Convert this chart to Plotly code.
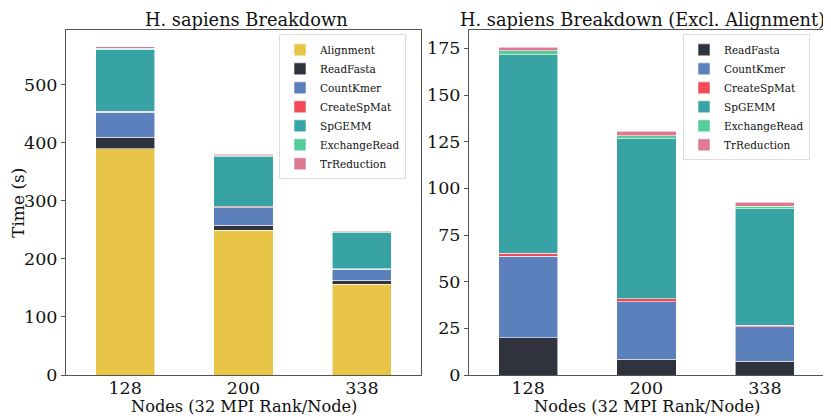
import plotly.graph_objects as go

nodes = ["128", "200", "338"]
alignment = [389, 249, 156]
read_fasta = [20.0, 8.4, 7.3]
count_kmer = [43.6, 30.8, 18.5]
create_spmat = [1.7, 1.7, 0.8]
spgemm = [106.2, 85.7, 62.4]
exchange_read = [2.1, 1.7, 1.4]
tr_reduction = [2.1, 2.3, 2.1]

series = [
    ("Alignment", alignment, "#E8C547"),
    ("ReadFasta", read_fasta, "#30323D"),
    ("CountKmer", count_kmer, "#5C80BC"),
    ("CreateSpMat", create_spmat, "#EF4B55"),
    ("SpGEMM", spgemm, "#38A3A5"),
    ("ExchangeRead", exchange_read, "#57CC99"),
    ("TrReduction", tr_reduction, "#DF7893"),
]

FONT = "DejaVu Serif"
fig = go.Figure()
for name, vals, col in series:
    fig.add_trace(go.Bar(x=nodes, y=vals, name=name, marker_color=col,
                         marker_line=dict(color="rgba(255,255,255,0.7)", width=0.8),
                         width=0.5, xaxis="x", yaxis="y", legend="legend"))
for name, vals, col in series[1:]:
    fig.add_trace(go.Bar(x=nodes, y=vals, name=name, marker_color=col,
                         marker_line=dict(color="rgba(255,255,255,0.7)", width=0.8),
                         width=0.5, xaxis="x2", yaxis="y2", legend="legend2"))

base = dict(showline=True, mirror=True, linecolor="#555555", linewidth=1,
            showgrid=False, zeroline=False,
            tickfont=dict(family=FONT, size=17.5, color="#111"))
yax = dict(ticks="outside", ticklen=4, tickcolor="#555555", **base)
xax = dict(ticks="", ticklabelstandoff=-3, **base)
ydom = [43/419, 396/419]
legcommon = dict(bordercolor="#dddddd", borderwidth=1, bgcolor="rgba(255,255,255,0.8)",
                 font=dict(family=FONT, size=10.5), traceorder="normal", tracegroupgap=0,
                 itemwidth=30, y=(419-27)/419, yanchor="top", xanchor="right")
fig.update_layout(
    width=831, height=419, barmode="stack",
    margin=dict(l=0, r=0, t=0, b=0),
    plot_bgcolor="white", paper_bgcolor="white",
    font=dict(family=FONT, color="#111"),
    xaxis=dict(domain=[58/831, 413/831], range=[-0.5, 2.5], anchor="y", **xax),
    yaxis=dict(domain=ydom, range=[0, 593], anchor="x", tickvals=[0,100,200,300,400,500],
               title=dict(text="Time (s)", font=dict(family=FONT, size=17), standoff=2), **yax),
    xaxis2=dict(domain=[461/831, 816/831], range=[-0.5, 2.5], anchor="y2", **xax),
    yaxis2=dict(domain=ydom, range=[0, 184.6], anchor="x2", tickvals=[0,25,50,75,100,125,150,175], **yax),
    legend=dict(x=398/831, **legcommon),
    legend2=dict(x=802/831, **legcommon),
    annotations=[
        dict(text="H. sapiens Breakdown", x=135/831, y=(419-12)/419, xref="paper", yref="paper",
             showarrow=False, font=dict(family=FONT, size=17.8), xanchor="left", yanchor="middle"),
        dict(text="H. sapiens Breakdown (Excl. Alignment)", x=819/831, y=(419-12)/419,
             xref="paper", yref="paper", showarrow=False, font=dict(family=FONT, size=17.8),
             xanchor="right", yanchor="middle"),
        dict(text="Nodes (32 MPI Rank/Node)", x=236/831, y=(419-408)/419, xref="paper", yref="paper",
             showarrow=False, font=dict(family=FONT, size=16.2), xanchor="center", yanchor="middle"),
        dict(text="Nodes (32 MPI Rank/Node)", x=638.5/831, y=(419-408)/419, xref="paper", yref="paper",
             showarrow=False, font=dict(family=FONT, size=16.2), xanchor="center", yanchor="middle"),
    ],
)
fig.write_html("out.html")
